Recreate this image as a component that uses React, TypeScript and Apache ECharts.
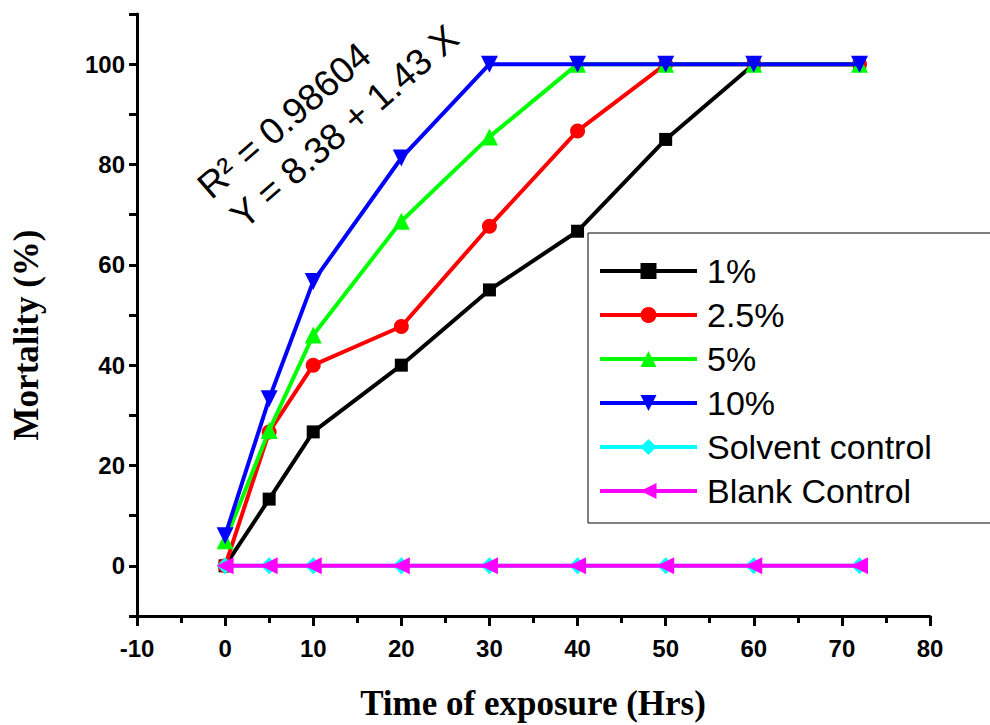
import React, { useEffect, useRef } from "react";
import * as echarts from "echarts";

const timeHrs = [0, 5, 10, 20, 30, 40, 50, 60, 72];
const mort1 = [0, 13.3, 26.7, 40, 55, 66.7, 85, 100, 100];
const mort25 = [0, 26.7, 40, 47.7, 67.7, 86.7, 100, 100, 100];
const mort5 = [5, 27, 46, 68.7, 85.5, 100, 100, 100, 100];
const mort10 = [6, 33.3, 56.7, 81.3, 100, 100, 100, 100, 100];
const solventCtrl = [0, 0, 0, 0, 0, 0, 0, 0, 0];
const blankCtrl = [0, 0, 0, 0, 0, 0, 0, 0, 0];
const seriesNames = ["1%", "2.5%", "5%", "10%", "Solvent control", "Blank Control"];
const yTickLabels = [0, 20, 40, 60, 80, 100];
const fitLines = ["R\u00B2 = 0.98604", "Y = 8.38 + 1.43 X"];
const xTitle = "Time of exposure (Hrs)";
const yTitle = "Mortality (%)";

const colors = ["#000000", "#ff0000", "#00ff00", "#0000ff", "#00ffff", "#ff00ff"];
const symbols = ["rect", "circle", "triangle", "triangle", "diamond", "triangle"];
const symbolSizes = [13, 15, 17, 17, 17, 17];
const symbolRotates = [0, 0, 0, 180, 0, 90];
const seriesData = [mort1, mort25, mort5, mort10, solventCtrl, blankCtrl];

export default function App() {
  const ref = useRef<HTMLDivElement>(null);
  useEffect(() => {
    if (!ref.current) return;
    const chart = echarts.init(ref.current, null, { renderer: "svg" });
    const rot = (41 * Math.PI) / 180;
    const option: any = {
      animation: false,
      backgroundColor: "#ffffff",
      grid: { left: 137, right: 60, top: 14, bottom: 109, containLabel: false },
      xAxis: {
        type: "value",
        min: -10,
        max: 80,
        interval: 10,
        axisLine: { show: true, onZero: false, lineStyle: { color: "#000", width: 3 } },
        axisTick: { show: true, inside: false, length: 10, lineStyle: { color: "#000", width: 3 } },
        minorTick: { show: true, splitNumber: 2, length: 7, lineStyle: { color: "#000", width: 3 } },
        splitLine: { show: false },
        axisLabel: {
          margin: 20,
          color: "#000",
          fontFamily: "Liberation Sans",
          fontWeight: "bold",
          fontSize: 24,
        },
      },
      yAxis: {
        type: "value",
        min: -10,
        max: 110,
        interval: 10,
        axisLine: { show: true, onZero: false, lineStyle: { color: "#000", width: 3 } },
        axisTick: { show: true, inside: false, length: 8, lineStyle: { color: "#000", width: 3 } },
        splitLine: { show: false },
        axisLabel: {
          margin: 12,
          color: "#000",
          fontFamily: "Liberation Sans",
          fontWeight: "bold",
          fontSize: 24,
          formatter: (v: number) => (yTickLabels.indexOf(v) >= 0 ? String(v) : ""),
        },
      },
      legend: {
        orient: "vertical",
        left: 588,
        top: 233,
        padding: [20, 80, 14, 10],
        borderColor: "#000",
        borderWidth: 1,
        backgroundColor: "#fff",
        itemWidth: 97,
        itemHeight: 20,
        itemGap: 8,
        lineStyle: { width: 4 },
        textStyle: {
          fontFamily: "Liberation Sans",
          fontSize: 34,
          lineHeight: 36,
          color: "#000",
          padding: [0, 0, 0, 5],
        },
        data: seriesNames,
      },
      graphic: [
        {
          type: "text",
          x: 203,
          y: 191,
          rotation: rot,
          style: {
            text: fitLines[0],
            fontFamily: "Liberation Sans",
            fontSize: 37,
            fill: "#000",
            textAlign: "left",
            textVerticalAlign: "middle",
          },
        },
        {
          type: "text",
          x: 236,
          y: 221,
          rotation: rot,
          style: {
            text: fitLines[1],
            fontFamily: "Liberation Sans",
            fontSize: 37,
            fill: "#000",
            textAlign: "left",
            textVerticalAlign: "middle",
          },
        },
        {
          type: "text",
          x: 533,
          y: 703,
          style: {
            text: xTitle,
            fontFamily: "Liberation Serif",
            fontWeight: "bold",
            fontSize: 35,
            fill: "#000",
            textAlign: "center",
            textVerticalAlign: "middle",
          },
        },
        {
          type: "text",
          x: 26,
          y: 335,
          rotation: Math.PI / 2,
          style: {
            text: yTitle,
            fontFamily: "Liberation Serif",
            fontWeight: "bold",
            fontSize: 35,
            fill: "#000",
            textAlign: "center",
            textVerticalAlign: "middle",
          },
        },
      ],
      series: seriesNames.map((name, i) => ({
        name,
        type: "line",
        data: timeHrs.map((t, j) => [t, seriesData[i][j]]),
        symbol: symbols[i],
        symbolSize: symbolSizes[i],
        symbolRotate: symbolRotates[i],
        showAllSymbol: true,
        color: colors[i],
        itemStyle: { color: colors[i] },
        lineStyle: { color: colors[i], width: 4 },
        z: 2 + i,
      })),
    };
    chart.setOption(option);
    return () => chart.dispose();
  }, []);
  return (
    <div
      ref={ref}
      style={{ position: "fixed", left: 0, top: 0, width: 990, height: 725, background: "#fff" }}
    />
  );
}
